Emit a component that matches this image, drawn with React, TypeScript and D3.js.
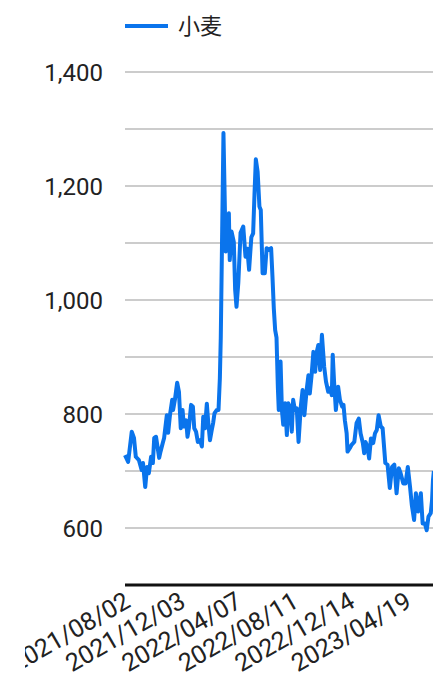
import React from 'react';
import * as d3 from 'd3';

const seriesName = '小麦';

const dates: string[] = [
  '2021/08/02','2021/08/09','2021/08/17','2021/08/22','2021/08/26','2021/09/02','2021/09/08','2021/09/11',
  '2021/09/16','2021/09/20','2021/09/24','2021/09/29','2021/10/03','2021/10/06','2021/10/10','2021/10/17',
  '2021/10/20','2021/10/25','2021/10/28','2021/11/03','2021/11/06','2021/11/10','2021/11/15','2021/11/17',
  '2021/11/21','2021/11/26','2021/11/30','2021/12/04','2021/12/08','2021/12/11','2021/12/16','2021/12/19',
  '2021/12/22','2021/12/27','2021/12/31','2022/01/03','2022/01/07','2022/01/11','2022/01/16','2022/01/20',
  '2022/01/23','2022/01/27','2022/01/31','2022/02/03','2022/02/07','2022/02/11','2022/02/14','2022/02/17',
  '2022/02/22','2022/02/26','2022/03/01','2022/03/03','2022/03/09','2022/03/14','2022/03/16','2022/03/21',
  '2022/03/23','2022/03/27','2022/04/01','2022/04/04','2022/04/07','2022/04/11','2022/04/16','2022/04/22',
  '2022/04/27','2022/05/01','2022/05/05','2022/05/10','2022/05/14','2022/05/17','2022/05/20','2022/05/24',
  '2022/05/28','2022/05/31','2022/06/04','2022/06/09','2022/06/13','2022/06/18','2022/06/23','2022/06/26',
  '2022/06/29','2022/07/02','2022/07/05','2022/07/08','2022/07/10','2022/07/14','2022/07/17','2022/07/20',
  '2022/07/24','2022/07/28','2022/07/31','2022/08/04','2022/08/08','2022/08/11','2022/08/15','2022/08/19',
  '2022/08/23','2022/08/28','2022/09/01','2022/09/05','2022/09/10','2022/09/14','2022/09/17','2022/09/21',
  '2022/09/25','2022/09/29','2022/10/02','2022/10/06','2022/10/10','2022/10/14','2022/10/19','2022/10/23',
  '2022/10/28','2022/11/01','2022/11/05','2022/11/07','2022/11/10','2022/11/14','2022/11/19','2022/11/23',
  '2022/11/28','2022/12/01','2022/12/04','2022/12/08','2022/12/10','2022/12/15','2022/12/19','2022/12/25',
  '2022/12/30','2023/01/04','2023/01/08','2023/01/13','2023/01/16','2023/01/19','2023/01/23','2023/01/27',
  '2023/01/31','2023/02/05','2023/02/09','2023/02/13','2023/02/17','2023/02/22','2023/02/26','2023/03/04',
  '2023/03/09','2023/03/14','2023/03/19','2023/03/24','2023/03/29','2023/04/03','2023/04/07','2023/04/13',
  '2023/04/18','2023/04/23','2023/04/28','2023/05/02','2023/05/07','2023/05/11','2023/05/16','2023/05/22',
  '2023/05/26','2023/05/31','2023/06/04','2023/06/08','2023/06/13','2023/06/16','2023/06/18','2023/06/20'
];

const values: number[] = [
  728,716,769,758,725,719,702,714,
  672,707,696,725,714,758,760,723,
  734,749,758,798,767,798,825,807,
  825,855,839,775,807,778,789,760,
  775,816,813,775,769,751,754,743,
  795,775,818,787,754,772,784,801,
  807,807,863,933,1293,1085,1088,1152,
  1070,1120,1102,1018,988,1030,1118,1129,
  1076,1090,1053,1110,1117,1185,1247,1225,
  1164,1158,1047,1047,1091,1088,1091,1041,
  985,947,934,846,807,892,807,781,
  819,763,819,813,769,825,807,810,
  751,813,842,798,842,868,836,868,
  909,874,907,921,877,939,883,857,
  839,845,833,904,857,807,848,825,
  813,816,789,766,734,740,746,751,
  784,792,766,749,731,751,743,722,
  757,749,766,772,798,778,775,714,
  711,670,707,711,661,705,696,678,
  678,707,672,640,614,661,629,661,
  608,608,596,620,626,649,684,700
];

const yGridValues: number[] = [600, 700, 800, 900, 1000, 1100, 1200, 1300, 1400];
const yLabelValues: number[] = [600, 800, 1000, 1200, 1400];
const xTickLabels: string[] = ['2021/08/02', '2021/12/03', '2022/04/07', '2022/08/11', '2022/12/14', '2023/04/19'];

const FONT = "Roboto, 'Noto Sans CJK JP', 'Noto Sans', sans-serif";
const LINE_COLOR = '#0a74ec';

export default function App() {
  const W = 433;
  const H = 683;
  const parse = d3.timeParse('%Y/%m/%d');
  const startDate = parse('2021/08/02') as Date;
  const endDate = parse('2023/06/20') as Date;
  const pxPerDay = 0.4496;
  const x0 = 125;
  const x = d3
    .scaleTime()
    .domain([startDate, endDate])
    .range([x0, x0 + d3.timeDay.count(startDate, endDate) * pxPerDay]);
  const y = d3.scaleLinear().domain([500, 1400]).range([585, 72]);

  const data = dates.map((d, i) => ({ date: parse(d) as Date, value: values[i] }));
  const line = d3
    .line<{ date: Date; value: number }>()
    .x((d) => x(d.date))
    .y((d) => y(d.value))
    .curve(d3.curveLinear);

  const fmt = d3.format(',');

  return (
    <svg
      width={W}
      height={H}
      style={{ position: 'absolute', left: 0, top: 0, background: '#fff' }}
      fontFamily={FONT}
    >
      <defs>
        <clipPath id="xlabelClip">
          <rect x={25} y={560} width={W - 25} height={H - 560} />
        </clipPath>
      </defs>
      <rect x={0} y={0} width={W} height={H} fill="#fff" />
      {/* legend */}
      <line x1={125} x2={168} y1={26} y2={26} stroke={LINE_COLOR} strokeWidth={4} />
      <text x={178} y={34} fontSize={22} fill="#222">
        {seriesName}
      </text>
      {/* gridlines */}
      {yGridValues.map((v) => (
        <line key={v} x1={125} x2={W} y1={y(v)} y2={y(v)} stroke="#cccccc" strokeWidth={2} />
      ))}
      {/* y labels */}
      {yLabelValues.map((v) => (
        <text key={v} x={103} y={y(v)} dy="0.36em" textAnchor="end" fontSize={24} fill="#222">
          {fmt(v)}
        </text>
      ))}
      {/* series */}
      <path
        d={line(data) || ''}
        fill="none"
        stroke={LINE_COLOR}
        strokeWidth={4}
        strokeLinejoin="round"
        strokeLinecap="butt"
      />
      {/* baseline */}
      <line x1={125} x2={W} y1={y(500)} y2={y(500)} stroke="#111" strokeWidth={3} />
      {/* x labels */}
      <g clipPath="url(#xlabelClip)">
        {xTickLabels.map((t) => {
          const tx = x(parse(t) as Date) + 7;
          const ty = 606;
          return (
            <text
              key={t}
              transform={`translate(${tx},${ty}) rotate(-30)`}
              textAnchor="end"
              fontSize={25}
              fill="#222"
            >
              {t}
            </text>
          );
        })}
      </g>
    </svg>
  );
}
